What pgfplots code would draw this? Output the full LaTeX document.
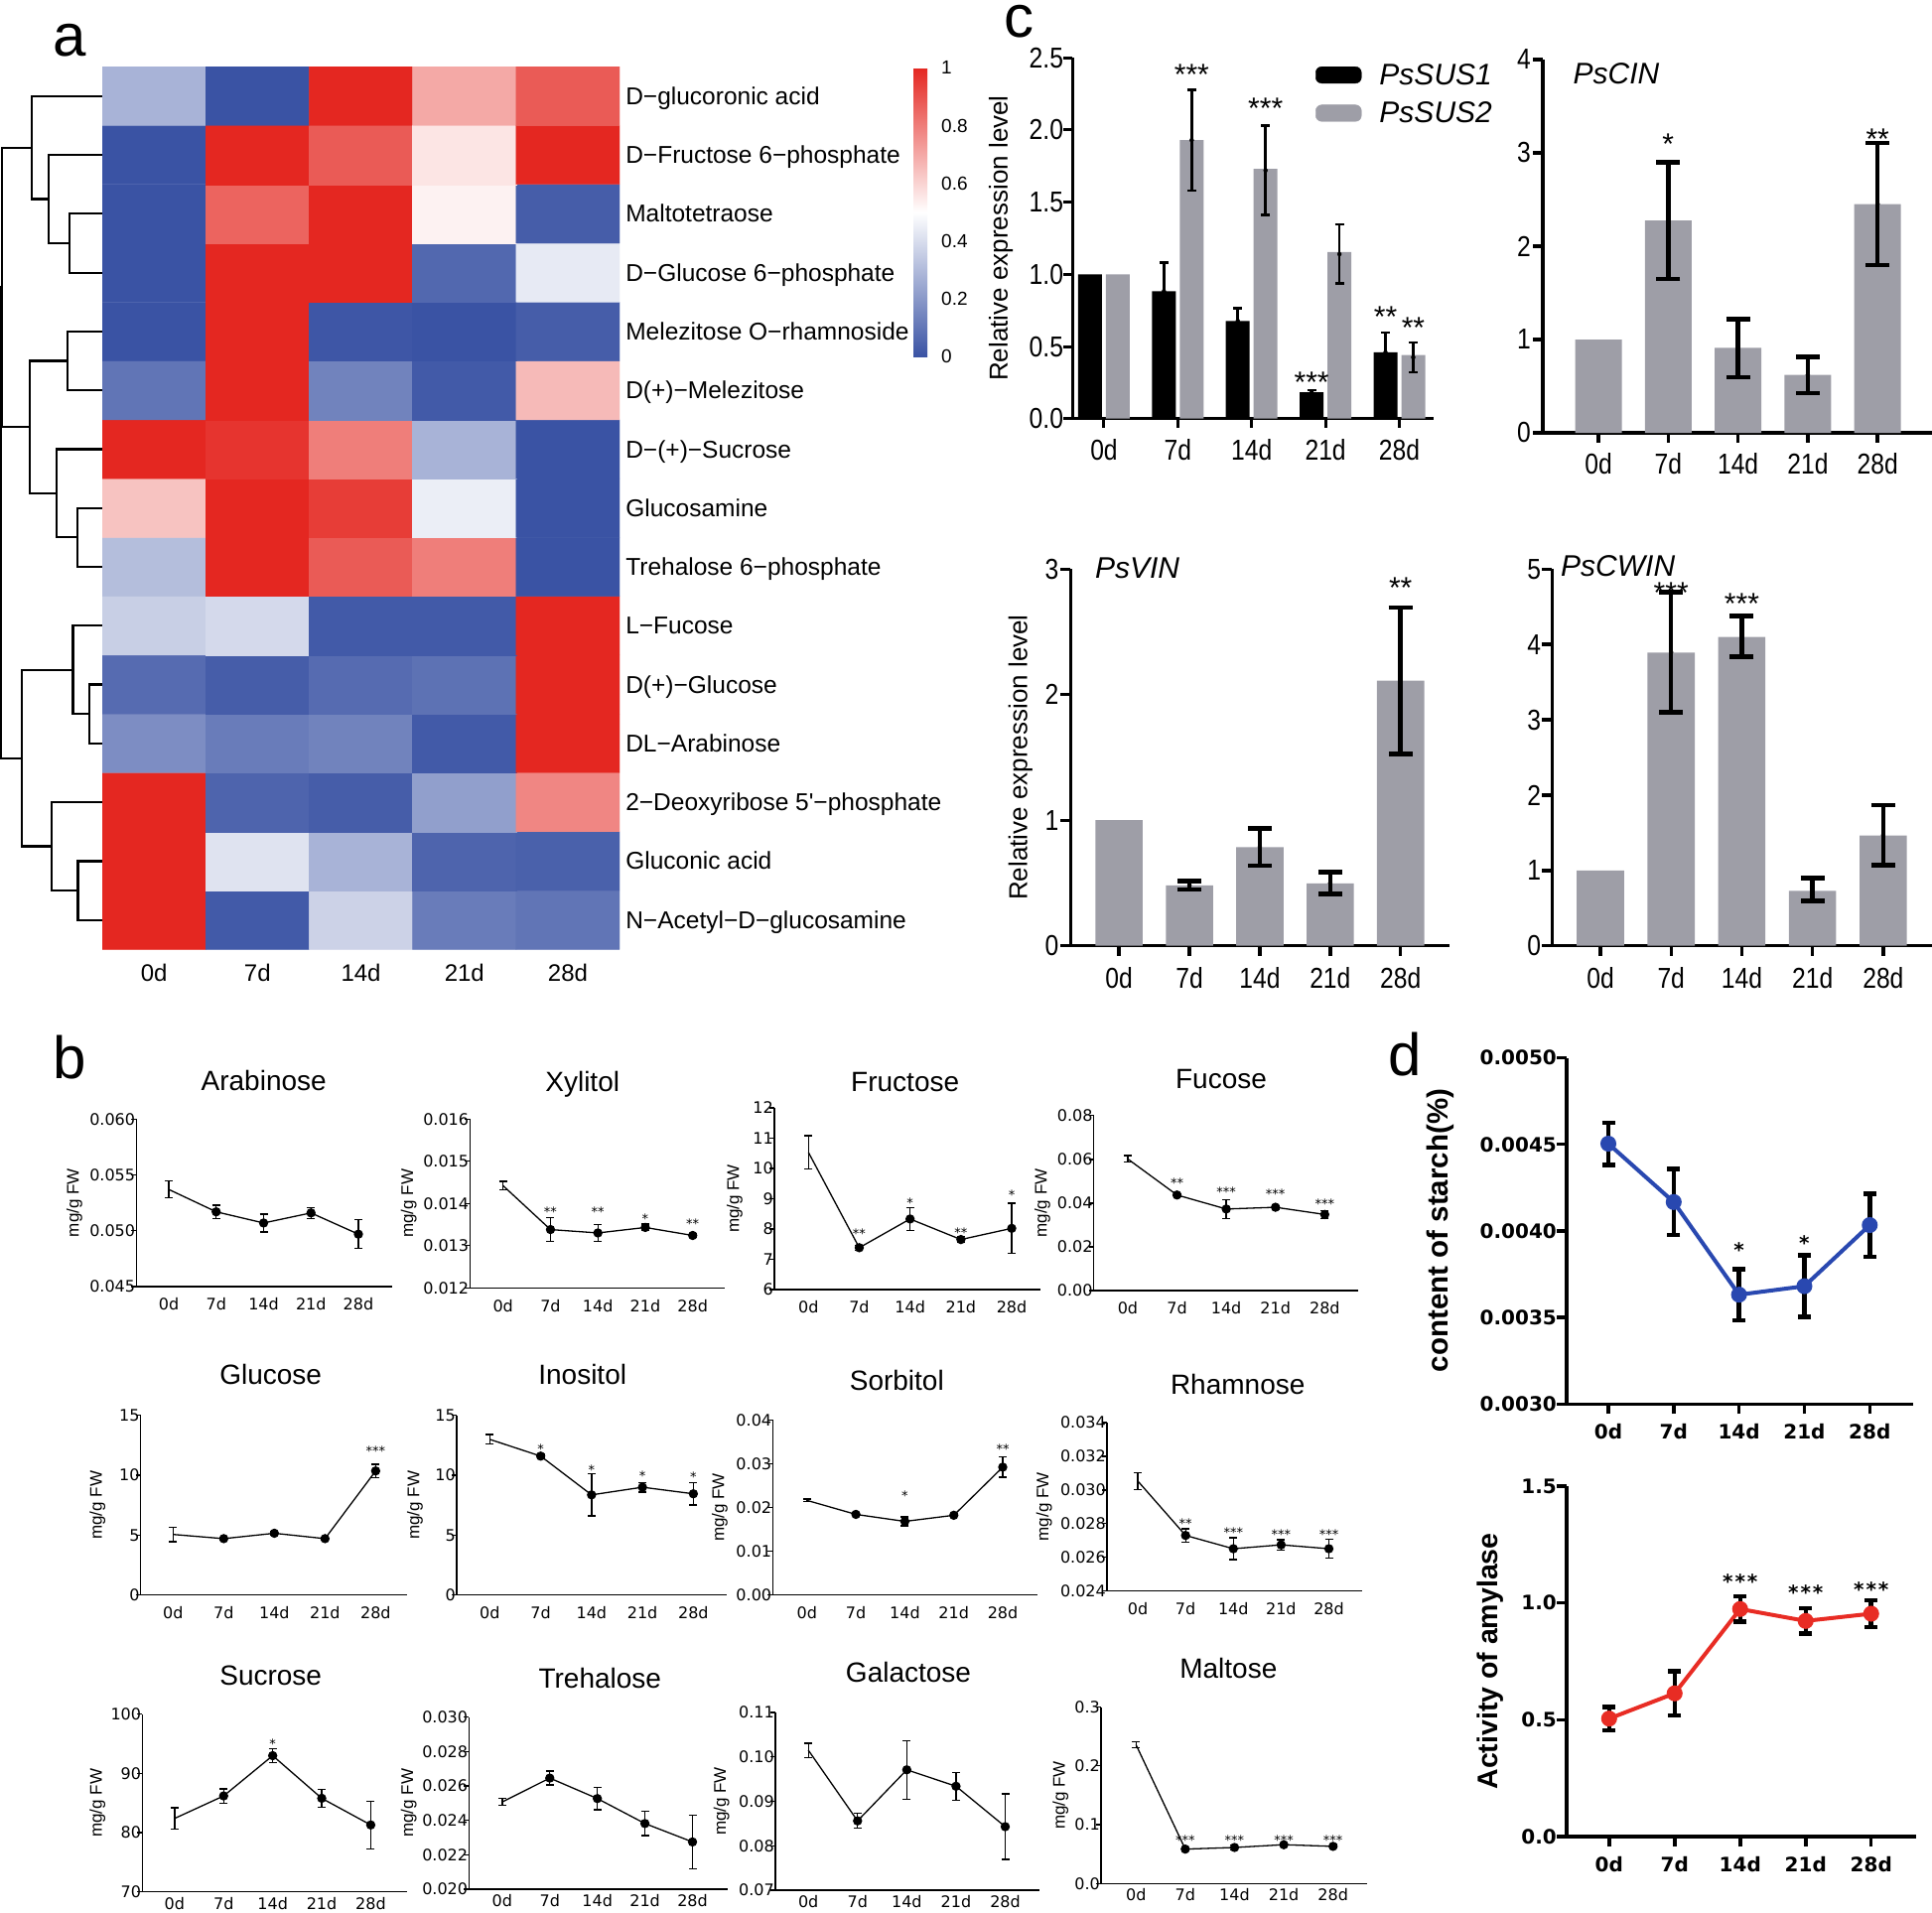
\documentclass[border=0pt]{standalone}
\usepackage{fontspec}
\setmainfont{Liberation Sans}
\newfontfamily\dvs{DejaVu Sans}
\newfontfamily\cnar[FakeStretch=0.85]{Liberation Sans}
\usepackage{pgfplots}
\pgfplotsset{compat=1.18}
\newcommand{\fs}[1]{\fontsize{#1bp}{#1bp}\selectfont}
\definecolor{cgray}{RGB}{158,158,167}
\definecolor{dblue}{RGB}{41,72,176}
\definecolor{dred}{RGB}{232,44,36}
\tikzset{
  cstar/.style={anchor=base, inner sep=0pt, yshift=-17.4bp, font=\fs{30}},
  bstar/.style={anchor=base, inner sep=0pt, yshift=-7.7bp, font=\dvs\fs{13}},
  dstar/.style={anchor=base, inner sep=0pt, yshift=-11.8bp, font=\dvs\bfseries\fs{20}},
}
\pgfplotsset{
  cax/.style={scale only axis, anchor=south west, axis lines=left, axis line style={-, line width=3.4bp, black},
    tick style={line width=3.4bp, black}, tick align=outside, major tick length=10bp, ymin=0,
    xtick={0,1,2,3,4}, xticklabels={0d,7d,14d,21d,28d},
    ticklabel style={font=\cnar\fs{29}, inner sep=0pt}, clip=false},
  cerr/.style={only marks, mark=none, forget plot, error bars/y dir=both, error bars/y explicit,
    error bars/error bar style={line width=4.5bp, black},
    error bars/error mark options={rotate=90, line width=4.5bp, mark size=12bp, black}},
  bax/.style={scale only axis, anchor=south west, axis lines=left, axis line style={-, line width=1.3bp, black},
    tick style={line width=1.3bp, black}, tick align=outside, major tick length=5bp, scaled y ticks=false,
    xtick={0,1,2,3,4}, xticklabels={0d,7d,14d,21d,28d}, xtick style={draw=none},
    ticklabel style={font=\dvs\fs{16}, inner sep=0pt}, yticklabel style={anchor=east, xshift=4bp},
    xticklabel style={anchor=north, yshift=#1}, clip=false},
  bline/.style={black, line width=1.3bp, mark=*, mark size=4bp, mark indices={2,3,4,5},
    error bars/y dir=both, error bars/y explicit,
    error bars/error bar style={line width=1.3bp, black},
    error bars/error mark options={rotate=90, line width=1.3bp, mark size=4bp, black}},
  dax/.style={scale only axis, anchor=south west, axis lines=left, axis line style={-, line width=3.5bp, black},
    tick style={line width=3.5bp, black}, tick align=outside, major tick length=10bp, scaled y ticks=false,
    xtick={0,1,2,3,4}, xticklabels={0d,7d,14d,21d,28d},
    ticklabel style={font=\dvs\bfseries\fs{20}, inner sep=0pt}, yticklabel style={anchor=east, xshift=0bp},
    xticklabel style={anchor=north, yshift=#1}, clip=false},
  dline/.style={color=#1, line width=4bp, mark=*, mark size=6bp, mark options={fill=#1, draw=#1},
    error bars/y dir=both, error bars/y explicit,
    error bars/error bar style={line width=4.5bp, black},
    error bars/error mark options={rotate=90, line width=4.5bp, mark size=6.5bp, black}},
}
\begin{document}
\begin{tikzpicture}
\path[use as bounding box] (0,0) rectangle (1946bp,-1927bp);

% ---------------- panel a: dendrogram ----------------
\begin{axis}[scale only axis, at={(51.5bp,-511.75bp)}, anchor=center, width=103bp, height=889.1bp,
  xmin=0, xmax=308, ymin=0.5, ymax=15.5, hide axis, clip=false]
\addplot[black, line width=2.2bp] coordinates {(308,13) (210,13) (210,12) (308,12)};
\addplot[black, line width=2.2bp] coordinates {(308,14) (147,14) (147,12.5) (210,12.5)};
\addplot[black, line width=2.2bp] coordinates {(308,15) (95,15) (95,13.25) (147,13.25)};
\addplot[black, line width=2.2bp] coordinates {(308,11) (203,11) (203,10) (308,10)};
\addplot[black, line width=2.2bp] coordinates {(308,8) (233,8) (233,7) (308,7)};
\addplot[black, line width=2.2bp] coordinates {(308,9) (170,9) (170,7.5) (233,7.5)};
\addplot[black, line width=2.2bp] coordinates {(203,10.5) (90,10.5) (90,8.25) (170,8.25)};
\addplot[black, line width=2.2bp] coordinates {(95,14.125) (5,14.125) (5,9.375) (90,9.375)};
\addplot[black, line width=2.2bp] coordinates {(308,5) (268,5) (268,4) (308,4)};
\addplot[black, line width=2.2bp] coordinates {(308,6) (220,6) (220,4.5) (268,4.5)};
\addplot[black, line width=2.2bp] coordinates {(308,2) (235,2) (235,1) (308,1)};
\addplot[black, line width=2.2bp] coordinates {(308,3) (155,3) (155,1.5) (235,1.5)};
\addplot[black, line width=2.2bp] coordinates {(220,5.25) (65,5.25) (65,2.25) (155,2.25)};
\addplot[black, line width=2.2bp] coordinates {(5,11.75) (3,11.75) (3,3.75) (65,3.75)};
\end{axis}

% ---------------- panel a: heatmap ----------------
\begin{axis}[scale only axis, at={(363.55bp,-511.75bp)}, anchor=center, width=521.1bp, height=889.1bp,
  xmin=-0.5, xmax=4.5, ymin=0.5, ymax=15.5, enlargelimits=false,
  axis line style={draw=none}, major tick length=0pt,
  xtick={0,1,2,3,4}, xticklabels={0d,7d,14d,21d,28d},
  ytick={1,...,15},
  yticklabels={N−Acetyl−D−glucosamine, Gluconic acid, 2−Deoxyribose 5\textquotesingle−phosphate, DL−Arabinose, D(+)−Glucose, L−Fucose, Trehalose 6−phosphate, Glucosamine, D−(+)−Sucrose, D(+)−Melezitose, Melezitose O−rhamnoside, D−Glucose 6−phosphate, Maltotetraose, D−Fructose 6−phosphate, D−glucoronic acid},
  yticklabel pos=right,
  xticklabel style={font=\fs{24}, anchor=north, inner sep=0pt, yshift=-15bp},
  yticklabel style={font=\fs{24.5}, anchor=west, inner sep=0pt, xshift=6bp, yshift=-5bp, text height=0.9em, text depth=0.18em},
  colormap={bwr}{rgb255=(58,83,164) rgb255=(255,255,255) rgb255=(228,39,33)},
  point meta min=0, point meta max=1,
  colorbar,
  colorbar style={scale only axis, at={(parent axis.north east)}, anchor=north west, xshift=287.4bp, yshift=-1.2bp,
    width=19bp, height=291bp, axis line style={draw=none}, major tick length=0pt,
    ytick={0,0.2,0.4,0.6,0.8,1}, yticklabels={0,0.2,0.4,0.6,0.8,1},
    yticklabel style={font=\fs{19}, anchor=west, inner sep=0pt, xshift=9bp}}]
\addplot[matrix plot*, point meta=explicit, mesh/cols=5] table[x=x, y=y, meta=c, row sep=\\] {
x y c\\
0 1 1.0\\ 1 1 0.02\\ 2 1 0.37\\ 3 1 0.12\\ 4 1 0.10\\
0 2 1.0\\ 1 2 0.42\\ 2 2 0.28\\ 3 2 0.05\\ 4 2 0.04\\
0 3 1.0\\ 1 3 0.05\\ 2 3 0.03\\ 3 3 0.22\\ 4 3 0.78\\
0 4 0.17\\ 1 4 0.12\\ 2 4 0.14\\ 3 4 0.02\\ 4 4 1.0\\
0 5 0.07\\ 1 5 0.03\\ 2 5 0.07\\ 3 5 0.09\\ 4 5 1.0\\
0 6 0.36\\ 1 6 0.39\\ 2 6 0.02\\ 3 6 0.02\\ 4 6 1.0\\
0 7 0.31\\ 1 7 1.0\\ 2 7 0.88\\ 3 7 0.80\\ 4 7 0.0\\
0 8 0.64\\ 1 8 1.0\\ 2 8 0.95\\ 3 8 0.45\\ 4 8 0.0\\
0 9 1.0\\ 1 9 0.97\\ 2 9 0.80\\ 3 9 0.28\\ 4 9 0.0\\
0 10 0.10\\ 1 10 1.0\\ 2 10 0.14\\ 3 10 0.02\\ 4 10 0.66\\
0 11 0.0\\ 1 11 1.0\\ 2 11 0.01\\ 3 11 0.0\\ 4 11 0.03\\
0 12 0.0\\ 1 12 1.0\\ 2 12 1.0\\ 3 12 0.06\\ 4 12 0.44\\
0 13 0.0\\ 1 13 0.86\\ 2 13 1.0\\ 3 13 0.53\\ 4 13 0.03\\
0 14 0.0\\ 1 14 1.0\\ 2 14 0.88\\ 3 14 0.56\\ 4 14 1.0\\
0 15 0.28\\ 1 15 0.0\\ 2 15 1.0\\ 3 15 0.70\\ 4 15 0.88\\
};
\end{axis}

% ---------------- panel c: PsSUS ----------------
\begin{axis}[cax, at={(1080.2bp,-421.7bp)}, width=364.1bp, height=363.4bp, xmin=-0.427, xmax=4.468, ymax=2.5,
  axis line style={line width=3bp}, tick style={line width=3bp}, major tick length=9bp,
  ytick={0,0.5,1,1.5,2,2.5}, yticklabels={0.0,0.5,1.0,1.5,2.0,2.5},
  yticklabel style={anchor=east, xshift=0bp}, xticklabel style={anchor=north, yshift=-12bp},
  legend style={at={(0.672,0.984)}, anchor=north west, draw=none, fill=none, inner sep=0pt,
    font=\itshape\fs{30}, row sep=16bp, nodes={inner sep=0pt, anchor=west},
    /tikz/every odd column/.append style={column sep=18bp}}, legend cell align=left]
\addplot[ybar, bar width=24bp, bar shift=-14bp, fill=black, draw=none, forget plot]
  coordinates {(0,1.0) (1,0.883) (2,0.677) (3,0.183) (4,0.459)};
\addplot[ybar, bar width=24bp, bar shift=14bp, fill=cgray, draw=none, forget plot]
  coordinates {(0,1.0) (1,1.93) (2,1.73) (3,1.155) (4,0.44)};
\addplot[cerr, error bars/error bar style={line width=2.6bp}, error bars/error mark options={rotate=90, line width=2.6bp, mark size=4.5bp}]
  table[x=x, y=y, y error=e, row sep=\\] {x y e\\ 0.812 0.883 0.20\\ 1.812 0.677 0.09\\ 2.812 0.183 0.015\\ 3.812 0.459 0.137\\};
\addplot[cerr, error bars/error bar style={line width=2.6bp}, error bars/error mark options={rotate=90, line width=2.6bp, mark size=4.5bp}]
  table[x=x, y=y, y error=e, row sep=\\] {x y e\\ 1.188 1.93 0.35\\ 2.188 1.72 0.31\\ 3.188 1.14 0.205\\ 4.188 0.425 0.104\\};
\addlegendimage{legend image code/.code={\fill[black, rounded corners=6bp] (0bp,-8.3bp) rectangle (46bp,8.3bp);}}
\addlegendentry{PsSUS1}
\addlegendimage{legend image code/.code={\fill[cgray, rounded corners=6bp] (0bp,-8.3bp) rectangle (46bp,8.3bp);}}
\addlegendentry{PsSUS2}
\node[cstar] at (axis cs:1.188,2.43) {***};
\node[cstar] at (axis cs:2.188,2.20) {***};
\node[cstar] at (axis cs:2.812,0.30) {***};
\node[cstar] at (axis cs:3.812,0.757) {**};
\node[cstar] at (axis cs:4.188,0.677) {**};
\end{axis}

% ---------------- panel c: PsCIN ----------------
\begin{axis}[cax, at={(1554bp,-436bp)}, width=392bp, height=376bp, xmin=-0.797, xmax=4.78, ymax=4,
  ytick={0,1,2,3,4}, yticklabels={0,1,2,3,4},
  yticklabel style={anchor=east, xshift=-2bp}, xticklabel style={anchor=north, yshift=-10.2bp}]
\addplot[ybar, bar width=47bp, bar shift=0bp, fill=cgray, draw=none, forget plot]
  coordinates {(0,1.0) (1,2.275) (2,0.91) (3,0.62) (4,2.45)};
\addplot[cerr] table[x=x, y=y, y error=e, row sep=\\] {x y e\\ 1 2.275 0.625\\ 2 0.906 0.31\\ 3 0.621 0.195\\ 4 2.453 0.653\\};
\node[cstar] at (axis cs:1,3.17) {*};
\node[cstar] at (axis cs:4,3.22) {**};
\end{axis}

% ---------------- panel c: PsVIN ----------------
\begin{axis}[cax, at={(1078.4bp,-952.7bp)}, width=381.1bp, height=379.4bp, xmin=-0.688, xmax=4.688, ymax=3,
  ytick={0,1,2,3}, yticklabels={0,1,2,3},
  yticklabel style={anchor=east, xshift=-2bp}, xticklabel style={anchor=north, yshift=-11.8bp}]
\addplot[ybar, bar width=47.6bp, bar shift=0bp, fill=cgray, draw=none, forget plot]
  coordinates {(0,1.0) (1,0.482) (2,0.786) (3,0.496) (4,2.112)};
\addplot[cerr] table[x=x, y=y, y error=e, row sep=\\] {x y e\\ 1 0.482 0.033\\ 2 0.788 0.148\\ 3 0.50 0.088\\ 4 2.112 0.584\\};
\node[cstar] at (axis cs:4,2.91) {**};
\end{axis}

% ---------------- panel c: PsCWIN ----------------
\begin{axis}[cax, at={(1563.2bp,-952.7bp)}, width=382.8bp, height=379.4bp, xmin=-0.685, xmax=4.69, ymax=5,
  ytick={0,1,2,3,4,5}, yticklabels={0,1,2,3,4,5},
  yticklabel style={anchor=east, xshift=-1bp}, xticklabel style={anchor=north, yshift=-11.8bp}]
\addplot[ybar, bar width=47.6bp, bar shift=0bp, fill=cgray, draw=none, forget plot]
  coordinates {(0,1.0) (1,3.893) (2,4.099) (3,0.729) (4,1.463)};
\addplot[cerr] table[x=x, y=y, y error=e, row sep=\\] {x y e\\ 1 3.897 0.795\\ 2 4.106 0.27\\ 3 0.749 0.152\\ 4 1.47 0.40\\};
\node[cstar] at (axis cs:1,4.78) {***};
\node[cstar] at (axis cs:2,4.63) {***};
\end{axis}

% ---------------- panel b ----------------
\begin{axis}[bax=-6.5bp, at={(137.3bp,-1296.1bp)}, width=257.7bp, height=168.9bp, xmin=-0.685, xmax=4.712,
  ymin=0.045, ymax=0.060, ytick={0.045,0.05,0.055,0.06}, yticklabels={0.045,0.050,0.055,0.060}]
\addplot[bline] table[x=x, y=y, y error=e, row sep=\\] {x y e\\ 0 0.0537 0.00075\\ 1 0.0517 0.0006\\ 2 0.0507 0.0008\\ 3 0.0516 0.0005\\ 4 0.0497 0.0013\\};
\end{axis}

\begin{axis}[bax=-6.5bp, at={(473.3bp,-1297.2bp)}, width=256.7bp, height=170bp, xmin=-0.70, xmax=4.676,
  ymin=0.012, ymax=0.016, ytick={0.012,0.013,0.014,0.015,0.016}, yticklabels={0.012,0.013,0.014,0.015,0.016}]
\addplot[bline] table[x=x, y=y, y error=e, row sep=\\] {x y e\\ 0 0.01442 0.0001\\ 1 0.01338 0.00028\\ 2 0.0133 0.0002\\ 3 0.01343 0.00008\\ 4 0.01324 0.00004\\};
\node[bstar] at (axis cs:1,0.01387) {**};
\node[bstar] at (axis cs:2,0.01387) {**};
\node[bstar] at (axis cs:3,0.0137) {*};
\node[bstar] at (axis cs:4,0.01358) {**};
\end{axis}

\begin{axis}[bax=-6.5bp, at={(780bp,-1298.9bp)}, width=268bp, height=182.9bp, xmin=-0.67, xmax=4.566,
  ymin=6, ymax=12, ytick={6,7,8,9,10,11,12}, yticklabels={6,7,8,9,10,11,12}]
\addplot[bline] table[x=x, y=y, y error=e, row sep=\\] {x y e\\ 0 10.53 0.55\\ 1 7.38 0.08\\ 2 8.33 0.37\\ 3 7.65 0.1\\ 4 8.02 0.83\\};
\node[bstar] at (axis cs:1,7.93) {**};
\node[bstar] at (axis cs:2,8.94) {*};
\node[bstar] at (axis cs:3,7.96) {**};
\node[bstar] at (axis cs:4,9.21) {*};
\end{axis}

\begin{axis}[bax=-6.5bp, at={(1101.7bp,-1300bp)}, width=266.6bp, height=176.2bp, xmin=-0.69, xmax=4.685,
  ymin=0, ymax=0.08, ytick={0,0.02,0.04,0.06,0.08}, yticklabels={0.00,0.02,0.04,0.06,0.08}]
\addplot[bline] table[x=x, y=y, y error=e, row sep=\\] {x y e\\ 0 0.0602 0.0015\\ 1 0.0437 0.0006\\ 2 0.0373 0.0043\\ 3 0.0381 0.0008\\ 4 0.0348 0.0018\\};
\node[bstar] at (axis cs:1,0.0505) {**};
\node[bstar] at (axis cs:2,0.0462) {***};
\node[bstar] at (axis cs:3,0.0455) {***};
\node[bstar] at (axis cs:4,0.0411) {***};
\end{axis}

\begin{axis}[bax=-6.5bp, at={(141.7bp,-1606.5bp)}, width=268.3bp, height=180.7bp, xmin=-0.64, xmax=4.62,
  ymin=0, ymax=15, ytick={0,5,10,15}, yticklabels={0,5,10,15}]
\addplot[bline] table[x=x, y=y, y error=e, row sep=\\] {x y e\\ 0 5.05 0.6\\ 1 4.7 0.12\\ 2 5.15 0.12\\ 3 4.7 0.1\\ 4 10.36 0.55\\};
\node[bstar] at (axis cs:4,12.3) {***};
\end{axis}

\begin{axis}[bax=-6.5bp, at={(460bp,-1606.5bp)}, width=271.7bp, height=180.7bp, xmin=-0.65, xmax=4.65,
  ymin=0, ymax=15, ytick={0,5,10,15}, yticklabels={0,5,10,15}]
\addplot[bline] table[x=x, y=y, y error=e, row sep=\\] {x y e\\ 0 13.0 0.4\\ 1 11.6 0.15\\ 2 8.36 1.76\\ 3 9.0 0.4\\ 4 8.45 0.93\\};
\node[bstar] at (axis cs:1,12.4) {*};
\node[bstar] at (axis cs:2,10.68) {*};
\node[bstar] at (axis cs:3,10.2) {*};
\node[bstar] at (axis cs:4,10.08) {*};
\end{axis}

\begin{axis}[bax=-6.5bp, at={(778.3bp,-1606.5bp)}, width=266.7bp, height=176.2bp, xmin=-0.70, xmax=4.71,
  ymin=0, ymax=0.04, ytick={0,0.01,0.02,0.03,0.04}, yticklabels={0.00,0.01,0.02,0.03,0.04}]
\addplot[bline] table[x=x, y=y, y error=e, row sep=\\] {x y e\\ 0 0.0216 0.0003\\ 1 0.0184 0.0003\\ 2 0.0168 0.001\\ 3 0.0182 0.0003\\ 4 0.0292 0.0023\\};
\node[bstar] at (axis cs:2,0.02324) {*};
\node[bstar] at (axis cs:4,0.0339) {**};
\end{axis}

\begin{axis}[bax=-6.5bp, at={(1115bp,-1602.6bp)}, width=256.7bp, height=169.6bp, xmin=-0.645, xmax=4.69,
  ymin=0.024, ymax=0.034, ytick={0.024,0.026,0.028,0.030,0.032,0.034}, yticklabels={0.024,0.026,0.028,0.030,0.032,0.034}]
\addplot[bline] table[x=x, y=y, y error=e, row sep=\\] {x y e\\ 0 0.03053 0.0005\\ 1 0.0273 0.0004\\ 2 0.02651 0.00065\\ 3 0.02674 0.0003\\ 4 0.02651 0.00055\\};
\node[bstar] at (axis cs:1,0.02816) {**};
\node[bstar] at (axis cs:2,0.02763) {***};
\node[bstar] at (axis cs:3,0.0275) {***};
\node[bstar] at (axis cs:4,0.0275) {***};
\end{axis}

\begin{axis}[bax=0bp, at={(143.3bp,-1905.7bp)}, width=266.7bp, height=179bp, xmin=-0.66, xmax=4.74,
  ymin=70, ymax=100, ytick={70,80,90,100}, yticklabels={70,80,90,100}]
\addplot[bline] table[x=x, y=y, y error=e, row sep=\\] {x y e\\ 0 82.4 1.8\\ 1 86.2 1.2\\ 2 93.0 1.2\\ 3 85.8 1.5\\ 4 81.3 4.0\\};
\node[bstar] at (axis cs:2,95.5) {*};
\end{axis}

\begin{axis}[bax=0bp, at={(472.3bp,-1902.9bp)}, width=260.7bp, height=173.4bp, xmin=-0.70, xmax=4.74,
  ymin=0.020, ymax=0.030, ytick={0.020,0.022,0.024,0.026,0.028,0.030}, yticklabels={0.020,0.022,0.024,0.026,0.028,0.030}]
\addplot[bline] table[x=x, y=y, y error=e, row sep=\\] {x y e\\ 0 0.02506 0.0002\\ 1 0.02645 0.0004\\ 2 0.02526 0.00065\\ 3 0.02381 0.0007\\ 4 0.02274 0.00155\\};
\end{axis}

\begin{axis}[bax=0bp, at={(781bp,-1904bp)}, width=265.7bp, height=179bp, xmin=-0.67, xmax=4.69,
  ymin=0.07, ymax=0.11, ytick={0.07,0.08,0.09,0.10,0.11}, yticklabels={0.07,0.08,0.09,0.10,0.11}]
\addplot[bline] table[x=x, y=y, y error=e, row sep=\\] {x y e\\ 0 0.1015 0.0016\\ 1 0.0856 0.0017\\ 2 0.0971 0.0066\\ 3 0.0934 0.0031\\ 4 0.0843 0.0074\\};
\end{axis}

\begin{axis}[bax=0bp, at={(1109bp,-1897.3bp)}, width=267.7bp, height=177.8bp, xmin=-0.71, xmax=4.685,
  ymin=0, ymax=0.3, ytick={0,0.1,0.2,0.3}, yticklabels={0.0,0.1,0.2,0.3}]
\addplot[bline] table[x=x, y=y, y error=e, row sep=\\] {x y e\\ 0 0.236 0.005\\ 1 0.0585 0.002\\ 2 0.0613 0.004\\ 3 0.066 0.002\\ 4 0.0632 0.003\\};
\node[bstar] at (axis cs:1,0.0783) {***};
\node[bstar] at (axis cs:2,0.0783) {***};
\node[bstar] at (axis cs:3,0.0783) {***};
\node[bstar] at (axis cs:4,0.0783) {***};
\end{axis}

% ---------------- panel d ----------------
\begin{axis}[dax=-10bp, at={(1578bp,-1414.4bp)}, width=349.3bp, height=348.9bp, xmin=-0.638, xmax=4.669,
  ymin=0.003, ymax=0.005, ytick={0.003,0.0035,0.004,0.0045,0.005}, yticklabels={0.0030,0.0035,0.0040,0.0045,0.0050}]
\addplot[dline=dblue] table[x=x, y=y, y error=e, row sep=\\] {x y e\\ 0 0.004504 0.000122\\ 1 0.004167 0.00019\\ 2 0.003632 0.000147\\ 3 0.003681 0.000178\\ 4 0.004034 0.000182\\};
\node[dstar] at (axis cs:2,0.003914) {*};
\node[dstar] at (axis cs:3,0.003953) {*};
\end{axis}

\begin{axis}[dax=-10.5bp, at={(1578bp,-1850bp)}, width=352bp, height=353bp, xmin=-0.648, xmax=4.686,
  ymin=0, ymax=1.5, ytick={0,0.5,1,1.5}, yticklabels={0.0,0.5,1.0,1.5}]
\addplot[dline=dred] table[x=x, y=y, y error=e, row sep=\\] {x y e\\ 0 0.505 0.05\\ 1 0.613 0.095\\ 2 0.974 0.054\\ 3 0.923 0.054\\ 4 0.954 0.058\\};
\node[dstar] at (axis cs:2,1.11) {*\kern2bp*\kern2bp*};
\node[dstar] at (axis cs:3,1.0625) {*\kern2bp*\kern2bp*};
\node[dstar] at (axis cs:4,1.0745) {*\kern2bp*\kern2bp*};
\end{axis}

% ---------------- texts ----------------
\node[rotate=90, anchor=base, font=\fs{26}] at (1014.8bp,-240bp) {Relative expression level};
\node[rotate=90, anchor=base, font=\fs{26}] at (1034.6bp,-763bp) {Relative expression level};
\node[anchor=base west, inner sep=0pt, font=\itshape\fs{30}] at (1584.5bp,-84bp) {PsCIN};
\node[anchor=base west, inner sep=0pt, font=\itshape\fs{30}] at (1102.8bp,-582.4bp) {PsVIN};
\node[anchor=base west, inner sep=0pt, font=\itshape\fs{30}] at (1572bp,-580.7bp) {PsCWIN};

\foreach \x/\y/\t in {265.7/1098/Arabinose, 586.7/1099/Xylitol, 911.7/1099/Fructose, 1230/1096.4/Fucose,
  272.7/1394.5/Glucose, 586.7/1394.5/Inositol, 903.3/1400/Sorbitol, 1246.7/1404/Rhamnose,
  272.7/1697.6/Sucrose, 604.3/1700.4/Trehalose, 915/1694.8/Galactose, 1237.3/1690.9/Maltose}
  \node[anchor=base, inner sep=0pt, font=\fs{28}] at (\x bp,-\y bp) {\t};

\foreach \x/\y in {79.4/1211.6, 416.1/1212.2, 744.4/1207.5, 1054.4/1211.9,
  102.7/1516.2, 422.4/1516.2, 729.4/1518.4, 1056.1/1517.8,
  102.7/1816.2, 416.1/1816.2, 731.1/1814.5, 1072.7/1808.4}
  \node[rotate=90, anchor=base, inner sep=0pt, font=\fs{17}] at (\x bp,-\y bp) {mg/g FW};

\node[rotate=90, anchor=base, inner sep=0pt, font=\bfseries\fs{29.5}] at (1458bp,-1239.4bp) {content of starch(\%)};
\node[rotate=90, anchor=base, inner sep=0pt, font=\bfseries\fs{28.5}] at (1508.6bp,-1673.4bp) {Activity of amylase};

\node[anchor=base west, inner sep=0pt, font=\fs{60}] at (53bp,-56bp) {a};
\node[anchor=base west, inner sep=0pt, font=\fs{60}] at (53bp,-1086bp) {b};
\node[anchor=base west, inner sep=0pt, text height=0.54em, text depth=0pt, font=\fs{60}] at (1011bp,-37bp) {c};
\node[anchor=base west, inner sep=0pt, font=\fs{60}] at (1398bp,-1083bp) {d};
\end{tikzpicture}
\end{document}
